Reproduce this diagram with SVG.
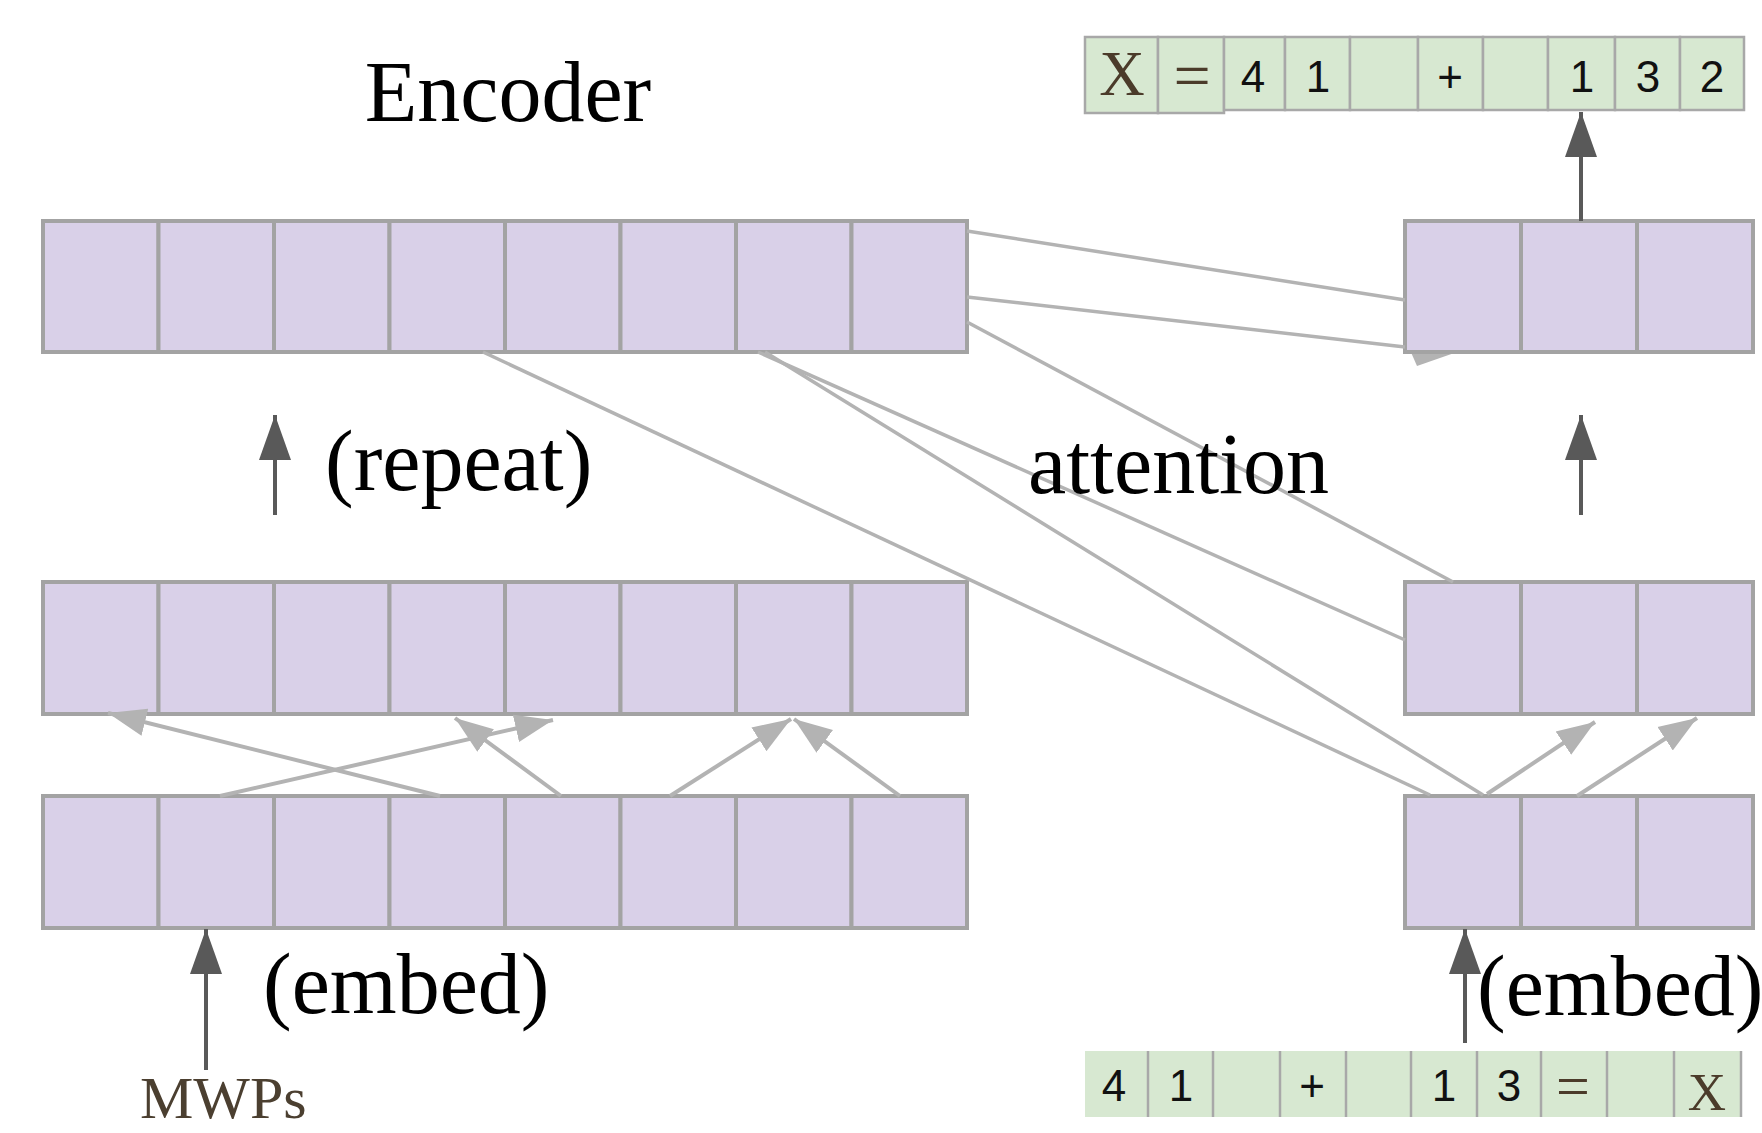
<svg xmlns="http://www.w3.org/2000/svg" width="1762" height="1133" viewBox="0 0 1762 1133">
<style>
.cell{fill:#d9d0e8;stroke:#a3a3a3;stroke-width:4}
.tok{fill:#d7e8d1;stroke:#a8a8a8;stroke-width:2.5}
.tokfill{fill:#d7e8d1}
.div{stroke:#a8a8a8;stroke-width:2.5}
.att{stroke:#b3b3b3;stroke-width:3.5;fill:none}
.arr{stroke:#b3b3b3;stroke-width:4;fill:none;marker-end:url(#lh)}
.dark{stroke:#595959;stroke-width:4;fill:none;marker-end:url(#dh)}
.lbl{font-family:"Liberation Serif","Times New Roman",serif;font-size:86px;fill:#000}
.dig{font-family:"Liberation Sans",Arial,sans-serif;font-size:44px;fill:#111;text-anchor:middle}
.sym{font-family:"Liberation Serif","Times New Roman",serif;fill:#4b3b2a;text-anchor:middle}
</style>
<defs>
<marker id="lh" markerUnits="userSpaceOnUse" markerWidth="40" markerHeight="30" viewBox="0 0 40 30" refX="38" refY="15" orient="auto">
<path d="M0,1 L38,15 L0,29 Z" fill="#b3b3b3"/>
</marker>
<marker id="dh" markerUnits="userSpaceOnUse" markerWidth="46" markerHeight="34" viewBox="0 0 46 34" refX="45" refY="17" orient="auto">
<path d="M0,1 L45,17 L0,33 Z" fill="#595959"/>
</marker>
</defs>
<rect width="1762" height="1133" fill="#ffffff"/>

<polygon points="1410,350 1460,351 1417,366" fill="#b3b3b3"/>

<g id="encoder-top">
<rect class="cell" x="43" y="221" width="115.5" height="131"/>
<rect class="cell" x="158.5" y="221" width="115.5" height="131"/>
<rect class="cell" x="274" y="221" width="115.5" height="131"/>
<rect class="cell" x="389.5" y="221" width="115.5" height="131"/>
<rect class="cell" x="505" y="221" width="115.5" height="131"/>
<rect class="cell" x="620.5" y="221" width="115.5" height="131"/>
<rect class="cell" x="736" y="221" width="115.5" height="131"/>
<rect class="cell" x="851.5" y="221" width="115.5" height="131"/>
</g>
<g id="encoder-mid">
<rect class="cell" x="43" y="582" width="115.5" height="132"/>
<rect class="cell" x="158.5" y="582" width="115.5" height="132"/>
<rect class="cell" x="274" y="582" width="115.5" height="132"/>
<rect class="cell" x="389.5" y="582" width="115.5" height="132"/>
<rect class="cell" x="505" y="582" width="115.5" height="132"/>
<rect class="cell" x="620.5" y="582" width="115.5" height="132"/>
<rect class="cell" x="736" y="582" width="115.5" height="132"/>
<rect class="cell" x="851.5" y="582" width="115.5" height="132"/>
</g>
<g id="encoder-embed">
<rect class="cell" x="43" y="796" width="115.5" height="132"/>
<rect class="cell" x="158.5" y="796" width="115.5" height="132"/>
<rect class="cell" x="274" y="796" width="115.5" height="132"/>
<rect class="cell" x="389.5" y="796" width="115.5" height="132"/>
<rect class="cell" x="505" y="796" width="115.5" height="132"/>
<rect class="cell" x="620.5" y="796" width="115.5" height="132"/>
<rect class="cell" x="736" y="796" width="115.5" height="132"/>
<rect class="cell" x="851.5" y="796" width="115.5" height="132"/>
</g>
<g id="decoder-top">
<rect class="cell" x="1405" y="221" width="116" height="131"/>
<rect class="cell" x="1521" y="221" width="116" height="131"/>
<rect class="cell" x="1637" y="221" width="116" height="131"/>
</g>
<g id="decoder-mid">
<rect class="cell" x="1405" y="582" width="116" height="132"/>
<rect class="cell" x="1521" y="582" width="116" height="132"/>
<rect class="cell" x="1637" y="582" width="116" height="132"/>
</g>
<g id="decoder-embed">
<rect class="cell" x="1405" y="796" width="116" height="132"/>
<rect class="cell" x="1521" y="796" width="116" height="132"/>
<rect class="cell" x="1637" y="796" width="116" height="132"/>
</g>

<g id="output-seq">
<rect class="tok" x="1085" y="37" width="73" height="76"/>
<rect class="tok" x="1158" y="37" width="66" height="76"/>
<rect class="tok" x="1224" y="37" width="61" height="73"/>
<rect class="tok" x="1285" y="37" width="65" height="73"/>
<rect class="tok" x="1350" y="37" width="68" height="73"/>
<rect class="tok" x="1418" y="37" width="65" height="73"/>
<rect class="tok" x="1483" y="37" width="65" height="73"/>
<rect class="tok" x="1548" y="37" width="67" height="73"/>
<rect class="tok" x="1615" y="37" width="65" height="73"/>
<rect class="tok" x="1680" y="37" width="64" height="73"/>
<text class="sym" x="1122" y="95" font-size="63">X</text>
<text class="sym" x="1192" y="98" font-size="66">=</text>
<text class="dig" x="1253" y="92">4</text>
<text class="dig" x="1318" y="92">1</text>
<text class="dig" x="1450" y="92">+</text>
<text class="dig" x="1582" y="92">1</text>
<text class="dig" x="1648" y="92">3</text>
<text class="dig" x="1712" y="92">2</text>
</g>

<g id="input-seq">
<rect class="tokfill" x="1085" y="1051" width="656" height="66"/>
<line class="div" x1="1148" y1="1051" x2="1148" y2="1117"/>
<line class="div" x1="1213" y1="1051" x2="1213" y2="1117"/>
<line class="div" x1="1280" y1="1051" x2="1280" y2="1117"/>
<line class="div" x1="1346" y1="1051" x2="1346" y2="1117"/>
<line class="div" x1="1411" y1="1051" x2="1411" y2="1117"/>
<line class="div" x1="1477" y1="1051" x2="1477" y2="1117"/>
<line class="div" x1="1541" y1="1051" x2="1541" y2="1117"/>
<line class="div" x1="1607" y1="1051" x2="1607" y2="1117"/>
<line class="div" x1="1674" y1="1051" x2="1674" y2="1117"/>
<line class="div" x1="1741" y1="1051" x2="1741" y2="1117"/>
<text class="dig" x="1114" y="1101" font-size="43">4</text>
<text class="dig" x="1181" y="1101" font-size="43">1</text>
<text class="dig" x="1312" y="1101" font-size="43">+</text>
<text class="dig" x="1444" y="1101" font-size="43">1</text>
<text class="dig" x="1509" y="1101" font-size="43">3</text>
<text class="sym" x="1573" y="1106" font-size="60">=</text>
<text class="sym" x="1707" y="1110" font-size="53">X</text>
</g>

<g id="connectors">
<line class="att" x1="967" y1="231" x2="1405" y2="300"/>
<line class="att" x1="967" y1="297" x2="1405" y2="347"/>
<line class="att" x1="967" y1="322" x2="1453" y2="582"/>
<line class="att" x1="758" y1="352" x2="1405" y2="640"/>
<line class="att" x1="765" y1="352" x2="1483" y2="795"/>
<line class="att" x1="483" y1="352" x2="1430" y2="795"/>
<line class="arr" x1="440" y1="796" x2="108" y2="713"/>
<line class="arr" x1="220" y1="796" x2="553" y2="720"/>
<line class="arr" x1="561" y1="796" x2="455" y2="718"/>
<line class="arr" x1="670" y1="796" x2="791" y2="719"/>
<line class="arr" x1="900" y1="796" x2="794" y2="719"/>
<line class="arr" x1="1487" y1="794" x2="1595" y2="722"/>
<line class="arr" x1="1577" y1="796" x2="1697" y2="718"/>
<line class="dark" x1="275" y1="515" x2="275" y2="415"/>
<line class="dark" x1="1581" y1="515" x2="1581" y2="415"/>
<line class="dark" x1="206" y1="1070" x2="206" y2="929"/>
<line class="dark" x1="1465" y1="1043" x2="1465" y2="929"/>
<line class="dark" x1="1581" y1="221" x2="1581" y2="112"/>
</g>

<g id="labels">
<text class="lbl" x="508" y="121" font-size="88" text-anchor="middle">Encoder</text>
<text class="lbl" x="325" y="490">(repeat)</text>
<text class="lbl" x="1028" y="493">attention</text>
<text class="lbl" x="263" y="1013">(embed)</text>
<text class="lbl" x="1477" y="1015">(embed)</text>
<text class="lbl" x="140" y="1118" style="font-size:60px;fill:#4b3f30">MWPs</text>
</g>
</svg>
